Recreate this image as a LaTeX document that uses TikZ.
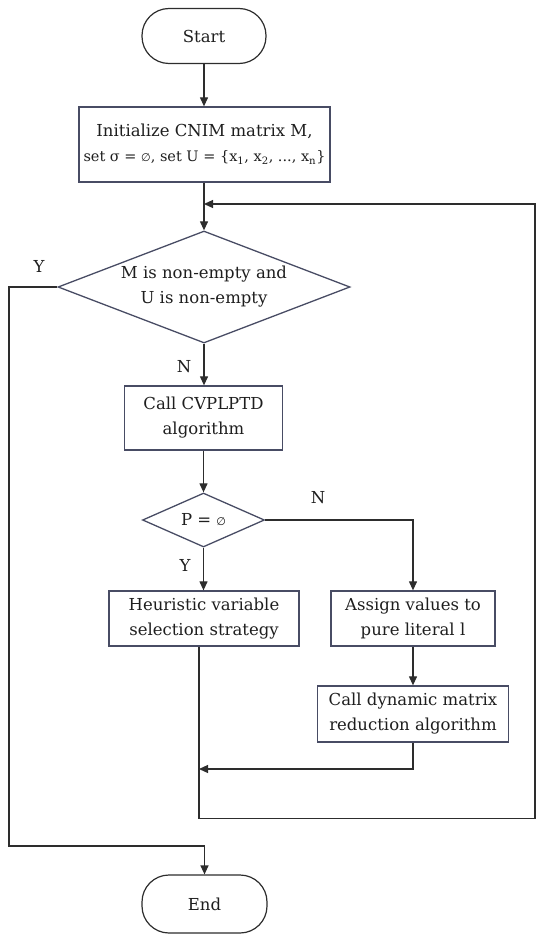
\documentclass[tikz,border=0pt]{standalone}
\usepackage{fontspec}
\setmainfont{DejaVu Serif}
\newfontfamily\symf{DejaVu Sans}
\usetikzlibrary{arrows.meta,shapes.geometric}
\definecolor{boxc}{RGB}{72,76,100}
\definecolor{linec}{RGB}{45,45,45}
\definecolor{txtc}{RGB}{30,30,30}
\newcommand{\emptysym}{{\symf\fontsize{11}{11}\selectfont ∅}}
\begin{document}
\begin{tikzpicture}[x=1pt,y=-1pt,
  every node/.style={font=\fontsize{16.5}{25}\selectfont, text=txtc},
  procbox/.style={draw=boxc, line width=1.3pt, rectangle, inner sep=0pt, align=center},
  termbox/.style={draw=linec, line width=1.2pt, rectangle, rounded corners=27pt, inner sep=0pt},
  decbox/.style={draw=boxc, line width=1.3pt, diamond, inner sep=0pt},
  txt/.style={align=center, inner sep=0pt},
  flow/.style={draw=linec, line width=1.2pt, -{Triangle[length=9pt,width=8pt]}},
  plain/.style={draw=linec, line width=1.2pt},
  lab/.style={inner sep=0pt}
]
\useasboundingbox (0,0) rectangle (550,934);

% nodes
\node[termbox, minimum width=124pt, minimum height=55pt] (start) at (204,36) {Start};
\node[procbox, minimum width=251pt, minimum height=75pt] (init) at (204.5,144.5)
  {Initialize CNIM matrix M,\\ {\fontsize{14.5}{25}\selectfont set σ = \emptysym, set U = \{x\textsubscript{1}, x\textsubscript{2}, ..., x\textsubscript{n}\}}};
\node[decbox, minimum width=292pt, minimum height=112pt] (d1) at (204,287) {};
\node[txt] (d1t) at (d1.center) {M is non-empty and\\U is non-empty};
\node[procbox, minimum width=158pt, minimum height=64pt] (call1) at (203.5,418) {Call CVPLPTD\\algorithm};
\node[decbox, minimum width=122pt, minimum height=54pt] (d2) at (203.5,520) {};
\node[txt] (d2t) at (d2.center) {P = \emptysym};
\node[procbox, minimum width=190pt, minimum height=55pt] (heur) at (204,618.5) {Heuristic variable\\selection strategy};
\node[procbox, minimum width=164pt, minimum height=55pt] (assign) at (413,618.5) {Assign values to\\pure literal l};
\node[procbox, minimum width=191pt, minimum height=56pt] (dyn) at (413,714) {Call dynamic matrix\\reduction algorithm};
\node[termbox, minimum width=125pt, minimum height=58pt] (end) at (204.5,904) {End};

% helper coordinates
\coordinate (j1) at (204,204);
\coordinate (m1) at (199,769);

% labels
\node[lab] (lY1) at (39,266) {Y};
\node[lab] (lN1) at (184,367) {N};
\node[lab] (lN2) at (318,498) {N};
\node[lab] (lY2) at (185,565) {Y};

% connectors
\draw[flow] (start.south) -- (init.north -| start.south);
\draw[flow] (init.south -| d1.north) -- (d1.north);
\draw[flow] (d1.south) -- (call1.north -| d1.south);
\draw[flow] (call1.south -| d2.north) -- (d2.north);
\draw[flow] (d2.south) -- (heur.north -| d2.south);
\draw[flow] (d2.east) -| (assign.north);
\draw[flow] (assign.south) -- (dyn.north);
\draw[flow] (dyn.south) |- (m1);
\draw[flow] (heur.south -| m1) -- ++(0,172) -| (535,204) -- (j1);
\draw[flow] (d1.west) -- (9,287) -- (9,846) -| (end.north);
\end{tikzpicture}
\end{document}
